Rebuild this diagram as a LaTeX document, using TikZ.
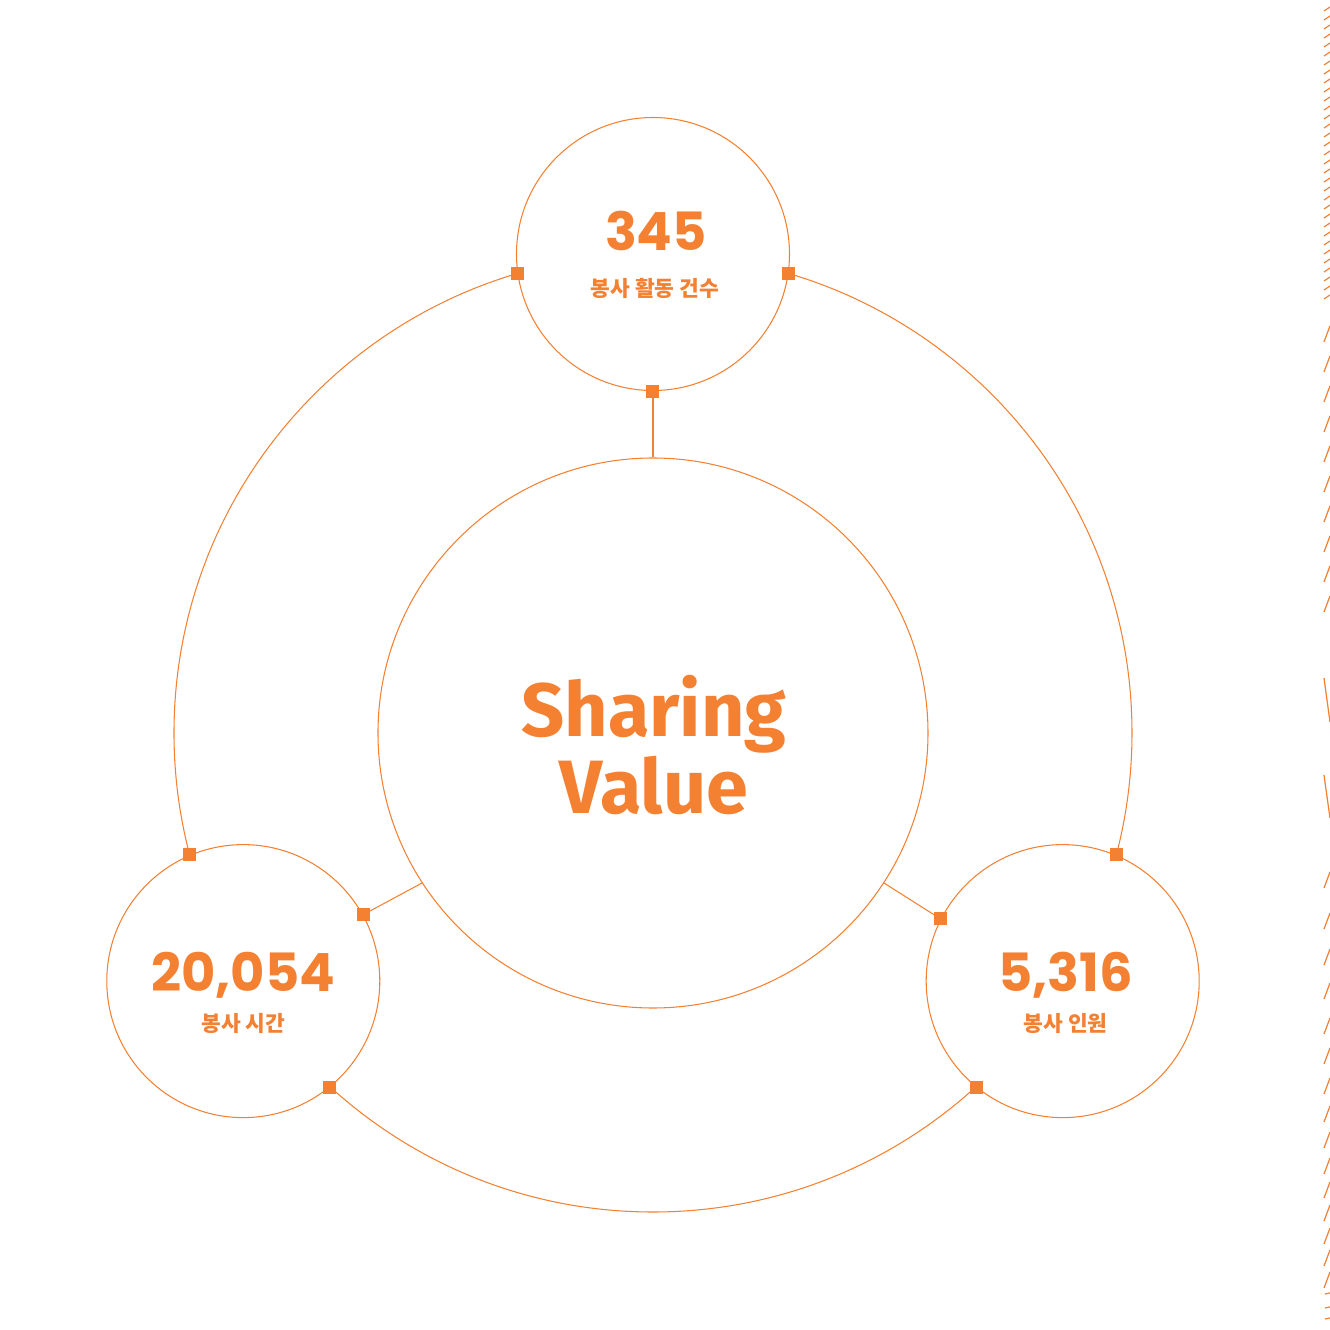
\documentclass[tikz,border=0pt]{standalone}
\usepackage{fontspec}
\setmainfont{Fira Sans}
\newfontfamily\numfont{Poppins}
\newfontfamily\krfont{Noto Sans CJK KR}
\usetikzlibrary{positioning}
\definecolor{svorange}{RGB}{244,128,50}

\begin{document}
\begin{tikzpicture}[
    ring/.style={draw=svorange,line width=.3pt},
    bubble/.style={ring,circle,fill=white,minimum size=2.73cm,inner sep=0pt},
    knob/.style={fill=svorange,rectangle,minimum size=.13cm,inner sep=0pt},
    numtxt/.style={text=svorange,font=\numfont\bfseries\fontsize{15}{15}\selectfont,inner sep=0pt},
    subtxt/.style={text=svorange,font=\krfont\bfseries\fontsize{6.1}{7}\selectfont,inner sep=0pt},
    rim/.style={svorange,line width=.35pt}
  ]
    \useasboundingbox (-6.53,-5.97) rectangle (6.77,7.33);

    \draw[ring] (0,0) circle[radius=4.79];
    \node[ring,circle,minimum size=5.5cm,inner sep=0pt] (core) at (0,0) {};
    \node[text=svorange,font=\bfseries\fontsize{21.5}{20.5}\selectfont,align=center] (title) at (0.01,-0.12) {Sharing\\Value};

    \node[bubble] (acts) at (90:4.79) {};
    \node[bubble] (hours) at (211.2:4.79) {};
    \node[bubble] (people) at (328.8:4.79) {};

    % spokes
    \draw[ring] (core.90) -- (acts.270);
    \draw[ring] (core.213) -- (hours.29);
    \draw[ring] (core.327) -- (people.153);

    \foreach \b/\a in {acts/270,acts/188,acts/352,hours/29,hours/113,hours/309,people/153,people/67,people/231}
      \node[knob] (k-\b-\a) at (\b.\a) {};

    \node[numtxt,anchor=base] (n-acts) at ([xshift=.03cm,yshift=.035cm]acts.center) {345};
    \node[subtxt,anchor=base] (l-acts) at ([xshift=.02cm,yshift=-.425cm]acts.center) {봉사 활동 건수};
    \node[numtxt,anchor=base] (n-hours) at ([yshift=-.10cm]hours.center) {20,054};
    \node[subtxt,anchor=base] (l-hours) at ([yshift=-.50cm]hours.center) {봉사 시간};
    \node[numtxt,anchor=base] (n-people) at ([xshift=.03cm,yshift=-.10cm]people.center) {5,316};
    \node[subtxt,anchor=base] (l-people) at ([xshift=.03cm,yshift=-.50cm]people.center) {봉사 인원};

    % page edge
    \foreach \y in {4.36,4.45,...,7.32}
      \draw[rim] (6.71,\y-.02) -- (6.77,\y+.02);
    \foreach \y in {1.29,1.59,...,4.2}
      \draw[rim] (6.71,\y-.08) -- (6.77,\y+.08);
    \draw[rim] (6.71,.55) -- (6.77,.11);
    \draw[rim] (6.71,-.42) -- (6.77,-.85);
    \foreach \y in {-1.47,-1.88,-2.24,-2.58,-2.93,-3.23,-3.53,-3.81,-4.07,-4.33,-4.57,-4.80,-5.03,-5.25,-5.47}
      \draw[rim] (6.71,\y-.08) -- (6.77,\y+.08);
    \foreach \y in {-5.60,-5.74,-5.85}
      \draw[rim] (6.72,\y-.01) -- (6.77,\y);
  \end{tikzpicture}
\end{document}
